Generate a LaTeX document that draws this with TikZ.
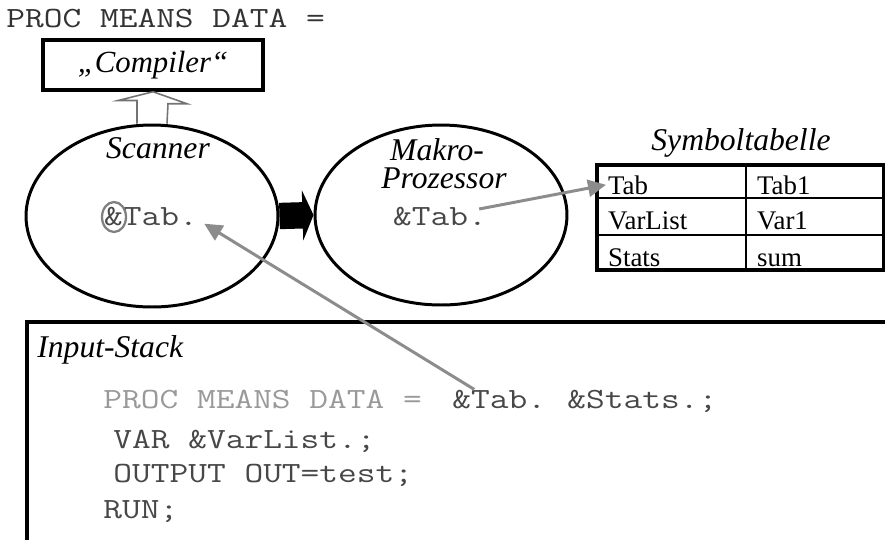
\documentclass[tikz,border=0pt]{standalone}
\usepackage{fontspec}
\setmainfont{Liberation Serif}
\usetikzlibrary{arrows.meta,shapes.geometric}

\newcommand{\sastxt}[1]{\scalebox{1.24}[1]{#1}}

\tikzset{
  oval/.style={draw,ellipse,line width=1.7pt,minimum width=5.04cm,minimum height=3.64cm,inner sep=0pt},
  lbl/.style={font=\fontsize{18}{16}\selectfont\itshape,inner sep=0pt},
  code/.style={font=\ttfamily\fontsize{16.7}{20}\selectfont,text=black!72,inner sep=0pt},
  cell/.style={font=\fontsize{15.3}{16}\selectfont,inner sep=1pt},
  pointer/.style={draw=black!45,line width=1.7pt,-{Triangle[length=0.36cm 0 0,width=0.34cm 0 0]}},
  hollow/.style={draw=black!55,line width=0.9pt},
}

\begin{document}
\begin{tikzpicture}[x=0.02cm,y=-0.02cm]

\useasboundingbox (0,0) rectangle (885,539);
\clip (0,0) rectangle (885,539);

\node[code,text=black!80,anchor=base west] (topline) at (6,27) {\sastxt{PROC MEANS DATA =}};

\node[draw,line width=2pt,minimum width=4.4cm,minimum height=1cm,inner sep=0pt,
      font=\fontsize{17.5}{18}\selectfont\itshape] (compiler) at (153,65) {„Compiler“};

\node[oval] (scanner) at (152,216) {};
\node[oval,minimum height=3.6cm] (makro) at (441,215) {};

% hollow arrow Scanner -> Compiler
\draw[hollow] ([xshift=-0.3cm]scanner.north) -- ++(0,-23) -- ++(-19,0) -- (compiler.south)
  -- ++(34,12) -- ++(-19,0) -- ([xshift=0.3cm]scanner.north);

\node[lbl] (scanlbl) at (158,148) {Scanner};
\node[code] (scantab) at (151,217) {\sastxt{\&Tab.}};
\node[draw=black!50,ellipse,line width=1.3pt,minimum width=0.48cm,minimum height=0.6cm,inner sep=0pt] (ampmark) at (114,217) {};

\draw[line width=15pt,-{Triangle[length=0.22cm 0 0,width=1cm 0 0]}] (scanner.east) -- (makro.west);

\node[lbl,text depth=0pt,anchor=base] (makrolbl) at (437,160) {Makro-};
\node[lbl,text depth=0pt,anchor=base] (prozlbl) at (444,188) {Prozessor};
\node[code] (makrotab) at (440,217) {\sastxt{\&Tab.}};

% Symboltabelle
\node[lbl] (symlbl) at (741,143) {Symboltabelle};
\draw[line width=2pt] (597,165) rectangle (884,270);
\draw[line width=0.8pt] (597,198) -- (884,198) (597,235) -- (884,235) (746,165) -- (746,270);
\node[cell,anchor=base west] (tabkey) at (606,194) {Tab};
\node[cell,anchor=base west] (varkey) at (606,229) {VarList};
\node[cell,anchor=base west] (statkey) at (606,266) {Stats};
\node[cell,anchor=base west] (tabval) at (755,194) {Tab1};
\node[cell,anchor=base west] (varval) at (755,229) {Var1};
\node[cell,anchor=base west] (statval) at (755,266) {sum};

\draw[pointer] ([shift={(-8,-8)}]makrotab.east) -- (tabkey.west);

% Input-Stack
\draw[line width=2pt] (27,322) rectangle (920,580);
\node[lbl,anchor=base west] (stacklbl) at (37,357) {Input-Stack};
\node[code,text=black!40,anchor=base west] (line1) at (103,408) {\sastxt{PROC MEANS DATA =}};
\node[code,anchor=base west] (inputtab) at (452,408) {\sastxt{\&Tab.}};
\node[code,anchor=base west] (inputstats) at (567,408) {\sastxt{\&Stats.;}};
\node[code,anchor=base west] (line2) at (113,448) {\sastxt{VAR \&VarList.;}};
\node[code,anchor=base west] (line3) at (113,482) {\sastxt{OUTPUT OUT=test;}};
\node[code,anchor=base west] (line4) at (103,518) {\sastxt{RUN;}};

\draw[pointer] ([xshift=-0.5cm]inputtab.north) -- ([shift={(6,-3)}]scantab.south east);

\end{tikzpicture}
\end{document}
